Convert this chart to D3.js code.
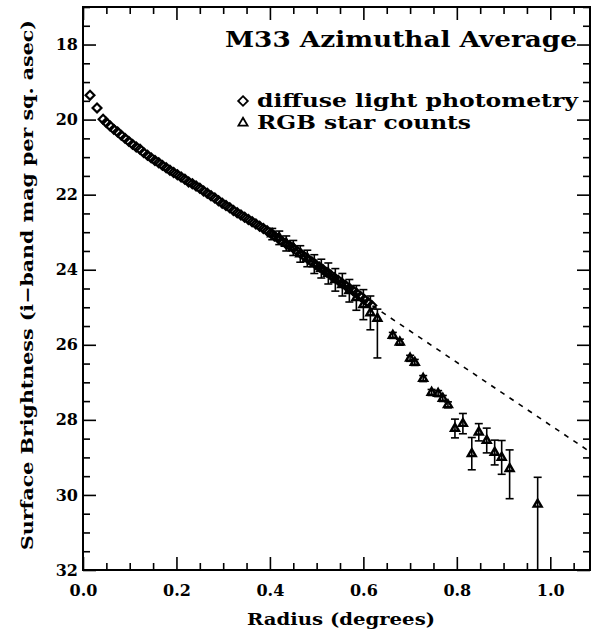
<!DOCTYPE html>
<html>
<head>
<meta charset="utf-8">
<script src="https://cdn.jsdelivr.net/npm/d3@7"></script>
<style>
body{margin:0;background:#fff;}
text{font-family:"DejaVu Serif",serif;font-weight:bold;fill:#000;}
</style>
</head>
<body>
<div id="chart"></div>
<script>
var W = 591, H = 634;
var plotL = 83, plotR = 590, plotT = 7, plotB = 570;

// diffuse light photometry (radius in degrees, i-band mag)
var diffR = [0.015,0.030,0.043,0.050,0.058,0.066,0.074,0.082,0.090,0.098,0.106,0.114,0.122,0.130,0.138,0.146,0.154,0.162,0.170,0.178,
	0.186,0.194,0.202,0.210,0.218,0.226,0.234,0.242,0.250,0.258,0.266,0.274,0.282,0.290,0.298,0.306,0.314,0.322,0.330,0.338,
	0.346,0.354,0.362,0.370,0.378,0.386,0.394,0.402,0.410,0.418,0.426,0.434,0.442,0.450,0.458,0.466,0.474,0.482,0.490,0.498,
	0.506,0.514,0.522,0.530,0.538,0.546,0.554,0.562,0.570,0.578,0.586,0.594,0.602,0.610,0.618];
var diffMag = [19.35,19.69,19.99,20.08,20.17,20.26,20.33,20.42,20.50,20.58,20.66,20.73,20.79,20.88,20.95,21.02,21.09,21.15,21.22,21.28,
	21.35,21.41,21.47,21.53,21.59,21.66,21.71,21.77,21.83,21.90,21.96,22.03,22.09,22.16,22.23,22.29,22.35,22.42,22.48,22.54,
	22.60,22.66,22.72,22.78,22.84,22.90,22.96,23.03,23.10,23.17,23.24,23.30,23.36,23.42,23.50,23.57,23.65,23.72,23.79,23.86,
	23.93,24.00,24.07,24.14,24.21,24.28,24.35,24.42,24.49,24.56,24.63,24.71,24.79,24.87,24.95];

// RGB star counts with lower/upper mag errors
var rgbR   = [0.405,0.420,0.435,0.450,0.465,0.480,0.495,0.510,0.525,0.540,0.555,0.570,0.585,0.600,0.615,0.630,
	0.663,0.678,0.700,0.710,0.728,0.746,0.760,0.770,0.781,0.796,0.813,0.832,0.847,0.864,0.881,0.896,0.913,0.973];
var rgbMag = [23.05,23.15,23.30,23.42,23.58,23.70,23.85,23.97,24.10,24.27,24.40,24.56,24.75,24.93,25.15,25.30,
	25.75,25.93,26.36,26.47,26.90,27.27,27.30,27.43,27.60,28.23,28.10,28.90,28.33,28.55,28.87,29.00,29.30,30.25];
var rgbErrLo = [0.15,0.18,0.20,0.20,0.22,0.22,0.25,0.25,0.28,0.30,0.30,0.30,0.33,0.40,0.45,0.25,
	0.08,0.08,0.08,0.08,0.08,0.08,0.08,0.08,0.08,0.25,0.27,0.43,0.23,0.33,0.33,0.45,0.50,0.72];
var rgbErrHi = [0.15,0.18,0.20,0.20,0.22,0.22,0.25,0.25,0.28,0.30,0.30,0.30,0.33,0.40,0.45,1.05,
	0.08,0.08,0.08,0.08,0.08,0.08,0.08,0.08,0.08,0.25,0.27,0.43,0.23,0.33,0.33,0.45,0.80,1.80];

// exponential disk fit (mag = fitZero + fitSlope * r), drawn from fitStart outward
var fitZero = 19.78, fitSlope = 8.36, fitStart = 0.60, fitEnd = 1.085;

var xMajor = [0.0,0.2,0.4,0.6,0.8,1.0];
var yMajor = [18,20,22,24,26,28,30,32];

var svg = d3.select("#chart").append("svg").attr("width",W).attr("height",H);

var x = d3.scaleLinear().domain([0,1.085]).range([plotL,plotR]);
var y = d3.scaleLinear().domain([17,32]).range([plotT,plotB]);

var xMinor = d3.range(0,1.09,0.05).filter(function(v){return Math.abs(v*10-Math.round(v*10))>0.01 || Math.round(v*10)%2==1;});
var yMinor = d3.range(17,32.01,0.5).filter(function(v){return v%2!=0;});

function styleAxis(g){
	g.select(".domain").remove();
	g.selectAll("line").attr("stroke","#000").attr("stroke-width",1.6);
	g.selectAll("text").attr("font-size",16).attr("font-family","DejaVu Serif");
}

// bottom
svg.append("g").attr("transform","translate(0,"+plotB+")")
	.call(d3.axisBottom(x).tickValues(xMajor).tickSize(-13).tickPadding(15).tickFormat(d3.format(".1f"))).call(styleAxis);
svg.append("g").attr("transform","translate(0,"+plotB+")")
	.call(d3.axisBottom(x).tickValues(xMinor).tickSize(-7).tickFormat("")).call(styleAxis);
// top
svg.append("g").attr("transform","translate(0,"+plotT+")")
	.call(d3.axisTop(x).tickValues(xMajor).tickSize(-13).tickFormat("")).call(styleAxis);
svg.append("g").attr("transform","translate(0,"+plotT+")")
	.call(d3.axisTop(x).tickValues(xMinor).tickSize(-7).tickFormat("")).call(styleAxis);
// left
svg.append("g").attr("transform","translate("+plotL+",0)")
	.call(d3.axisLeft(y).tickValues(yMajor).tickSize(-13).tickPadding(5).tickFormat(d3.format("d"))).call(styleAxis);
svg.append("g").attr("transform","translate("+plotL+",0)")
	.call(d3.axisLeft(y).tickValues(yMinor).tickSize(-7).tickFormat("")).call(styleAxis);
// right
svg.append("g").attr("transform","translate("+plotR+",0)")
	.call(d3.axisRight(y).tickValues(yMajor).tickSize(-13).tickFormat("")).call(styleAxis);
svg.append("g").attr("transform","translate("+plotR+",0)")
	.call(d3.axisRight(y).tickValues(yMinor).tickSize(-7).tickFormat("")).call(styleAxis);

svg.append("rect").attr("x",plotL).attr("y",plotT).attr("width",plotR-plotL).attr("height",plotB-plotT)
	.attr("fill","none").attr("stroke","#000").attr("stroke-width",2);

var clip = svg.append("clipPath").attr("id","clip").append("rect")
	.attr("x",plotL).attr("y",plotT).attr("width",plotR-plotL).attr("height",plotB-plotT);
var plot = svg.append("g").attr("clip-path","url(#clip)");

// dashed fit line
plot.append("line")
	.attr("x1",x(fitStart)).attr("y1",y(fitZero+fitSlope*fitStart))
	.attr("x2",x(fitEnd)).attr("y2",y(fitZero+fitSlope*fitEnd))
	.attr("stroke","#000").attr("stroke-width",1.6).attr("stroke-dasharray","5,6");

var diamond = d3.symbol().type(d3.symbolDiamond2).size(50);
var triangle = d3.symbol().type(d3.symbolTriangle2).size(45);

var diff = diffR.map(function(r,i){return {r:r,m:diffMag[i]};});
plot.selectAll("path.diff").data(diff).enter().append("path").attr("class","diff")
	.attr("d",diamond)
	.attr("transform",function(d){return "translate("+x(d.r)+","+y(d.m)+")";})
	.attr("fill","none").attr("stroke","#000").attr("stroke-width",2.2);

var rgb = rgbR.map(function(r,i){return {r:r,m:rgbMag[i],lo:rgbErrLo[i],hi:rgbErrHi[i]};});
var eb = plot.selectAll("g.eb").data(rgb).enter().append("g").attr("class","eb")
	.attr("stroke","#000").attr("stroke-width",1.6);
eb.append("line")
	.attr("x1",function(d){return x(d.r);}).attr("x2",function(d){return x(d.r);})
	.attr("y1",function(d){return y(d.m-d.lo);}).attr("y2",function(d){return y(d.m+d.hi);});
eb.append("line")
	.attr("x1",function(d){return x(d.r)-4;}).attr("x2",function(d){return x(d.r)+4;})
	.attr("y1",function(d){return y(d.m-d.lo);}).attr("y2",function(d){return y(d.m-d.lo);});
eb.append("line")
	.attr("x1",function(d){return x(d.r)-4;}).attr("x2",function(d){return x(d.r)+4;})
	.attr("y1",function(d){return y(d.m+d.hi);}).attr("y2",function(d){return y(d.m+d.hi);});
plot.selectAll("path.rgb").data(rgb).enter().append("path").attr("class","rgb")
	.attr("d",triangle)
	.attr("transform",function(d){return "translate("+x(d.r)+","+y(d.m)+")";})
	.attr("fill","none").attr("stroke","#000").attr("stroke-width",2.4);

// title and legend
svg.append("text").attr("x",577).attr("y",47).attr("text-anchor","end")
	.attr("font-size",22).attr("textLength",352).attr("lengthAdjust","spacingAndGlyphs")
	.text("M33 Azimuthal Average");
svg.append("path").attr("d",d3.symbol().type(d3.symbolDiamond2).size(60))
	.attr("transform","translate(243,101)").attr("fill","none").attr("stroke","#000").attr("stroke-width",1.8);
svg.append("text").attr("x",257).attr("y",107).attr("font-size",19)
	.attr("textLength",321).attr("lengthAdjust","spacingAndGlyphs").text("diffuse light photometry");
svg.append("path").attr("d",d3.symbol().type(d3.symbolTriangle2).size(60))
	.attr("transform","translate(243,123)").attr("fill","none").attr("stroke","#000").attr("stroke-width",1.8);
svg.append("text").attr("x",257).attr("y",129).attr("font-size",19)
	.attr("textLength",214).attr("lengthAdjust","spacingAndGlyphs").text("RGB star counts");

// axis titles
svg.append("text").attr("x",341).attr("y",625).attr("text-anchor","middle").attr("font-size",17)
	.attr("textLength",188).attr("lengthAdjust","spacingAndGlyphs").text("Radius (degrees)");
svg.append("text").attr("transform","translate(33,285) rotate(-90)").attr("text-anchor","middle").attr("font-size",17)
	.attr("textLength",530).attr("lengthAdjust","spacingAndGlyphs")
	.text("Surface Brightness (i\u2212band mag per sq. asec)");
</script>
</body>
</html>
